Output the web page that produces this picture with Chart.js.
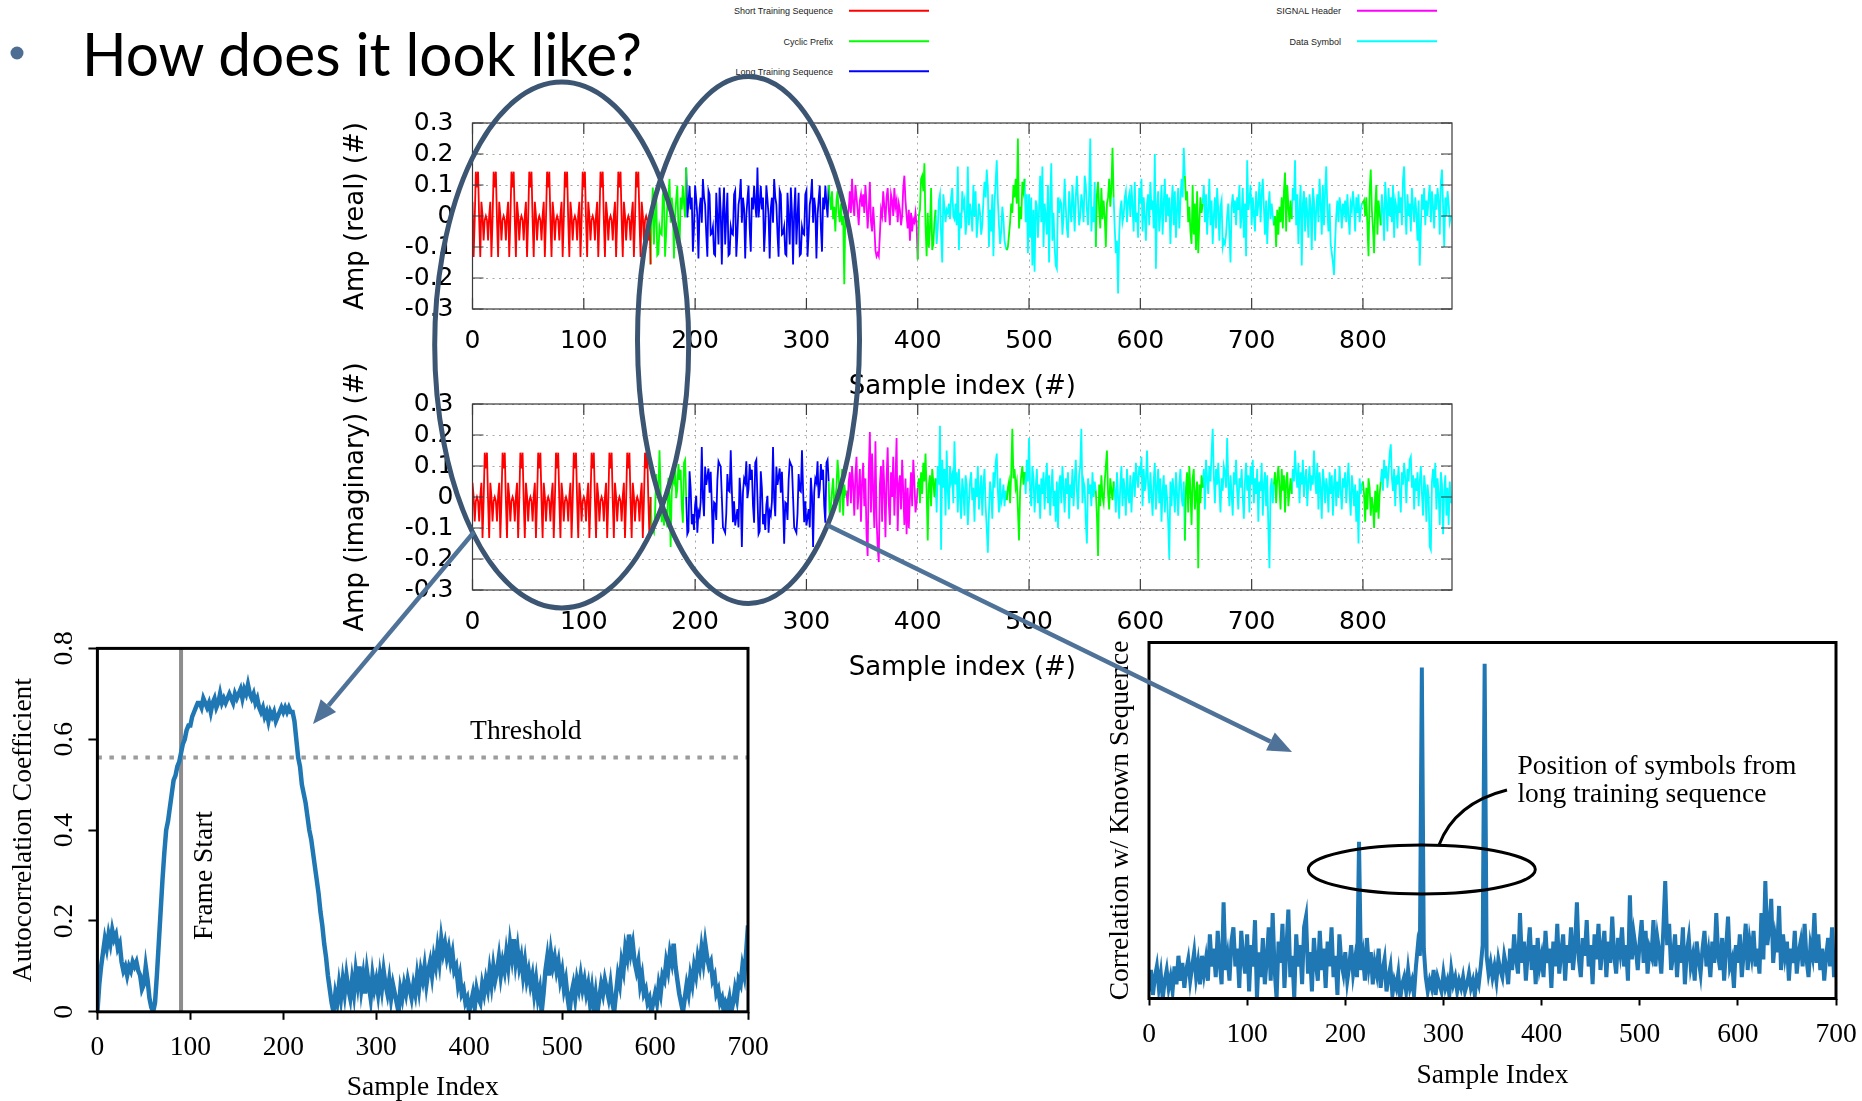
<!DOCTYPE html>
<html>
<head>
<meta charset="utf-8">
<title>How does it look like?</title>
<script src="https://cdn.jsdelivr.net/npm/chart.js@4.4.1/dist/chart.umd.min.js"></script>
<style>
  html, body { margin: 0; padding: 0; background: #fff; }
  body { width: 1862px; height: 1101px; position: relative; overflow: hidden; }
  canvas.chart { position: absolute; }
  svg.layer { position: absolute; left: 0; top: 0; pointer-events: none; }
</style>
</head>
<body>
<svg class="layer" id="heading" width="1862" height="100">
  <circle cx="17" cy="53" r="6.5" fill="#4d6d93"></circle>
  <text x="82" y="76" font-family="Lato, 'Open Sans', sans-serif" font-size="60" fill="#000"
        textLength="560" lengthAdjust="spacingAndGlyphs">How does it look like?</text>
</svg>
<svg class="layer" id="legend" width="1862" height="100"></svg>

<canvas class="chart" id="realChart" width="1140" height="310" style="left:330px;top:95px"></canvas>
<canvas class="chart" id="imagChart" width="1140" height="346" style="left:330px;top:340px"></canvas>
<canvas class="chart" id="autoChart" width="780" height="520" style="left:0px;top:600px"></canvas>
<canvas class="chart" id="corrChart" width="772" height="520" style="left:1090px;top:600px"></canvas>

<svg class="layer" id="marks" width="1862" height="1101">
  <!-- sample ranges circled on the two waveform plots -->
  <ellipse cx="561.7" cy="345" rx="127" ry="263" fill="none" stroke="#3b5572" stroke-width="5"></ellipse>
  <ellipse cx="748.5" cy="340" rx="111" ry="263.5" fill="none" stroke="#3b5572" stroke-width="5"></ellipse>
  <!-- pointers to the two detection plots -->
  <line x1="474" y1="532" x2="328.4" y2="705.6" stroke="#4f7298" stroke-width="4.5"></line>
  <polygon points="313,724 336.1,712.0 320.7,699.2" fill="#4f7298"></polygon>
  <line x1="827" y1="525" x2="1270.4" y2="741.5" stroke="#4f7298" stroke-width="4.5"></line>
  <polygon points="1292,752 1266.0,750.5 1274.8,732.5" fill="#4f7298"></polygon>
  <!-- long training symbol peaks callout -->
  <ellipse cx="1421.8" cy="869.5" rx="113.5" ry="24.5" fill="none" stroke="#000" stroke-width="3"></ellipse>
  <path d="M1439 845 Q1455 803 1507 790" fill="none" stroke="#000" stroke-width="3"></path>
</svg>

<script>
// ---------- 802.11a preamble / frame samples (real part) ----------
const stsRe = [
  .046,-.132,-.013,.143,.092,.143,-.013,-.132,.046,.002,-.079,-.013,0,-.013,-.079,.002,
  .046,-.132,-.013,.143,.092,.143,-.013,-.132,.046,.002,-.079,-.013,0,-.013,-.079,.002,
  .046,-.132,-.013,.143,.092,.143,-.013,-.132,.046,.002,-.079,-.013,0,-.013,-.079,.002,
  .046,-.132,-.013,.143,.092,.143,-.013,-.132,.046,.002,-.079,-.013,0,-.013,-.079,.002,
  .046,-.132,-.013,.143,.092,.143,-.013,-.132,.046,.002,-.079,-.013,0,-.013,-.079,.002,
  .046,-.132,-.013,.143,.092,.143,-.013,-.132,.046,.002,-.079,-.013,0,-.013,-.079,.002,
  .046,-.132,-.013,.143,.092,.143,-.013,-.132,.046,.002,-.079,-.013,0,-.013,-.079,.002,
  .046,-.132,-.013,.143,.092,.143,-.013,-.132,.046,.002,-.079,-.013,0,-.013,-.079,.002,
  .046,-.132,-.013,.143,.092,.143,-.013,-.132,.046,.002,-.079,-.013,0,-.013,-.079,.002,
  .046,-.132,-.013,.143,.092,.143,-.013,-.132,.046,.002,-.079,-.013,0,-.013,-.079,.002
];
const gi2Re = [
  -.156,.012,.092,-.092,-.003,.075,-.127,-.122,-.035,-.056,-.060,.070,.082,-.131,-.057,.037,
  .062,.119,-.022,.059,.024,-.137,.001,.053,.098,-.038,-.115,.060,.021,.097,.040,-.005
];
const lts1Re = [
  .156,-.005,.040,.097,.021,.060,-.115,-.038,.098,.053,.001,-.137,.024,.059,-.022,.119,
  .062,.037,-.057,-.131,.082,.070,-.060,-.056,-.035,-.122,-.127,.075,-.003,-.092,.092,.012,
  -.156,.012,.092,-.092,-.003,.075,-.127,-.122,-.035,-.056,-.060,.070,.082,-.131,-.057,.037,
  .062,.119,-.022,.059,.024,-.137,.001,.053,.098,-.038,-.115,.060,.021,.097,.040,-.005
];
const lts2Re = [
  .156,-.005,.040,.097,.021,.060,-.115,-.038,.098,.053,.001,-.137,.024,.059,-.022,.119,
  .062,.037,-.057,-.131,.082,.070,-.060,-.056,-.035,-.122,-.127,.075,-.003,-.092,.092,.012,
  -.156,.012,.092,-.092,-.003,.075,-.127,-.122,-.035,-.056,-.060,.070,.082,-.131,-.057,.037,
  .062,.119,-.022,.059,.024,-.137,.001,.053,.098,-.038,-.115,.060,.021,.097,.040,-.005
];
const sigCpRe = [.10,.06,.02,.08,-.01,.03,-.05,.05,.08,.01,-.02,.04,-.03,.00,-.22,.02];
const sigRe = [
  .01,.00,.02,.08,.01,.12,.04,.00,.10,.06,.02,-.03,.05,.07,.03,.07,
  .01,.10,.04,-.04,.02,.11,-.02,-.05,.03,-.03,-.11,-.13,-.12,-.13,-.06,.02,
  .00,.08,.03,-.02,.06,.09,.02,-.03,.07,.05,.00,.09,.03,.05,-.02,.04,
  .02,-.03,.00,.09,.13,.05,.00,-.04,.02,-.08,.01,-.05,-.01,-.02,.01,-.03
];
const cp1Re = [-.14,.00,.02,.12,.13,.08,.17,-.03,-.13,.01,-.10,-.04,.09,-.11,-.09,-.02];
const sym1Re = [
  .02,-.09,-.04,.05,.07,-.06,-.15,.07,.03,-.02,.02,.01,.04,-.01,.06,.09,
  .00,-.01,.04,-.03,.16,-.11,.01,-.04,.08,.03,.05,-.06,-.02,.16,-.03,.04,
  .01,-.05,.10,.00,.08,-.07,-.02,.04,.01,-.06,-.03,.05,.11,.06,.15,.09,
  -.10,.02,-.05,.07,-.13,.04,.11,.18,.05,-.03,-.09,-.05,.03,-.01,-.08,-.10
];
const cp2Re = [-.11,-.10,-.06,-.02,.04,.01,.10,.06,.12,.04,.25,-.04,.03,-.01,.11,.08];
const sym2Re = [
  .12,-.02,.07,-.12,.07,-.07,.06,-.16,.02,-.18,.05,.03,-.07,.02,.13,-.02,
  .16,-.10,.04,.00,-.06,.10,-.15,.04,.17,-.08,.01,-.10,-.16,-.17,.06,.01,
  .05,.04,-.06,.00,.12,.03,-.04,-.07,.08,.02,-.02,.10,.04,-.05,.06,.13,
  .05,-.03,.00,.07,.04,-.02,.13,.10,.02,-.03,.07,.25,-.05,.03,-.02,.11
];
const cp3Re = [-.10,.07,.11,.02,-.04,.09,-.01,.05,.00,-.10,.04,.06,.12,.03,.09,.22];
const sym3Re = [
  .06,-.04,-.12,-.08,-.25,-.06,.02,.05,-.02,.00,.06,.08,-.02,.05,.07,.00,
  .10,.03,-.05,.11,-.02,.01,-.07,.09,.04,.12,-.05,.06,.00,-.08,.04,.07,
  -.03,.11,.02,.05,-.04,.20,-.17,.03,.08,-.05,.01,.10,-.06,.04,.12,-.02,
  .07,.00,.06,-.09,.03,.10,-.03,.08,-.07,.02,.09,-.04,.05,.12,.06,.22
];
const cp4Re = [.13,.05,.08,-.02,.03,-.05,-.09,.10,-.06,.04,-.11,.08,-.12,-.02,.06,.01];
const sym4Re = [
  .04,.10,-.02,.07,-.06,.02,.12,-.03,.05,-.09,.00,.06,-.04,.09,.02,-.08,
  .03,.05,-.10,-.08,-.09,-.06,.00,.04,-.05,-.15,.03,.07,.01,.05,-.03,.06,
  .02,.10,-.04,.00,.09,-.07,.04,-.13,.18,.02,.05,.10,-.03,.06,.01,-.05,
  .08,.00,.04,.11,-.02,.07,.12,.03,-.06,.05,-.09,.02,.08,-.01,.04,.00
];
const cp5Re = [-.03,.00,-.10,.02,-.06,.03,-.02,.06,-.04,.08,.14,-.05,.10,.03,-.02,.05];
const sym5Re = [
  -.01,.09,.05,.18,-.03,.07,-.09,.02,.10,-.16,.04,.08,-.05,.06,.01,-.07,
  .07,.03,-.11,.09,.05,-.08,.02,.07,-.02,.12,.04,-.06,.10,-.03,.08,.16,
  .02,-.05,.04,-.09,-.12,-.15,-.19,-.08,.00,.05,-.02,.06,.03,-.04,.04,.01,
  .05,-.02,.07,.00,-.06,.04,.02,.08,.03,-.05,.06,.01,.07,-.02,.02,.04
];
const cp6Re = [.04,.05,.00,.06,-.03,-.13,.08,.15,.02,-.04,-.12,.03,.10,-.06,.05,.01];
const sym6Re = [
  -.03,.07,.02,-.08,.11,.04,-.05,.09,.00,.06,-.02,.10,-.07,.05,.03,-.04,
  .08,.01,.06,-.03,.12,.16,.02,-.06,.07,.00,.04,-.05,.09,.03,-.02,.06,
  .01,-.08,.05,-.16,-.04,.07,.02,.09,-.03,.05,.00,.06,.10,-.02,.08,.03,
  -.04,.07,.02,.09,.05,-.06,.11,.15,.03,-.10,.06,.00,.08,.04,-.02,.00
];

// ---------- imaginary part ----------
const stsIm = [
  .046,.002,-.079,-.013,0,-.013,-.079,.002,.046,-.132,-.013,.143,.092,.143,-.013,-.132,
  .046,.002,-.079,-.013,0,-.013,-.079,.002,.046,-.132,-.013,.143,.092,.143,-.013,-.132,
  .046,.002,-.079,-.013,0,-.013,-.079,.002,.046,-.132,-.013,.143,.092,.143,-.013,-.132,
  .046,.002,-.079,-.013,0,-.013,-.079,.002,.046,-.132,-.013,.143,.092,.143,-.013,-.132,
  .046,.002,-.079,-.013,0,-.013,-.079,.002,.046,-.132,-.013,.143,.092,.143,-.013,-.132,
  .046,.002,-.079,-.013,0,-.013,-.079,.002,.046,-.132,-.013,.143,.092,.143,-.013,-.132,
  .046,.002,-.079,-.013,0,-.013,-.079,.002,.046,-.132,-.013,.143,.092,.143,-.013,-.132,
  .046,.002,-.079,-.013,0,-.013,-.079,.002,.046,-.132,-.013,.143,.092,.143,-.013,-.132,
  .046,.002,-.079,-.013,0,-.013,-.079,.002,.046,-.132,-.013,.143,.092,.143,-.013,-.132,
  .046,.002,-.079,-.013,0,-.013,-.079,.002,.046,-.132,-.013,.143,.092,.143,-.013,-.132
];
const gi2Im = [
  0,-.098,-.106,-.115,-.054,.074,.021,.017,.151,.022,-.081,-.014,-.092,-.065,-.039,-.098,
  .062,.004,-.161,.015,.059,.047,.115,-.004,.026,.106,.055,.088,-.028,-.083,.111,.120
];
const lts1Im = [
  0,-.120,-.111,.083,.028,-.088,-.055,-.106,-.026,.004,-.115,-.047,-.059,-.015,.161,-.004,
  -.062,.098,.039,.065,.092,.014,.081,-.022,-.151,-.017,-.021,-.074,.054,.115,.106,.098,
  0,-.098,-.106,-.115,-.054,.074,.021,.017,.151,.022,-.081,-.014,-.092,-.065,-.039,-.098,
  .062,.004,-.161,.015,.059,.047,.115,-.004,.026,.106,.055,.088,-.028,-.083,.111,.120
];
const lts2Im = [
  0,-.120,-.111,.083,.028,-.088,-.055,-.106,-.026,.004,-.115,-.047,-.059,-.015,.161,-.004,
  -.062,.098,.039,.065,.092,.014,.081,-.022,-.151,-.017,-.021,-.074,.054,.115,.106,.098,
  0,-.098,-.106,-.115,-.054,.074,.021,.017,.151,.022,-.081,-.014,-.092,-.065,-.039,-.098,
  .062,.004,-.161,.015,.059,.047,.115,-.004,.026,.106,.055,.088,-.028,-.083,.111,.120
];
const sigCpIm = [.05,-.08,-.03,.02,.06,-.04,.00,.03,.12,.07,-.05,.02,.09,-.06,.04,.01];
const sigIm = [
  .02,-.03,.05,.08,-.02,.10,.04,-.06,.07,.13,-.04,.02,.09,-.08,.05,.11,
  -.03,.06,-.12,-.19,.08,.21,-.05,.14,.02,-.10,.18,-.07,-.16,-.21,.04,.10,
  -.08,.12,.03,-.13,.06,.16,-.02,-.09,.08,.00,.13,-.06,.05,.19,-.11,.04,
  .07,-.04,.12,.02,-.09,.06,-.12,.03,-.10,.00,.08,-.03,.12,.05,-.05,-.02
];
const cp1Im = [.03,.06,-.02,.08,.01,.11,.05,.14,.02,-.14,.04,.07,-.03,.09,.05,.00];
const sym1Im = [
  .06,-.05,.10,.04,.23,-.17,.12,.03,.09,-.06,.15,.02,-.04,.10,.05,.07,
  -.02,.18,.04,.08,-.05,.09,.00,-.07,.06,.02,-.06,.07,.04,-.09,-.02,.05,
  .08,-.01,.03,-.08,.06,.00,.10,-.04,.02,.07,-.06,.04,.09,-.03,-.10,-.18,
  -.05,.05,.01,-.07,.08,.03,.11,.14,.02,-.05,.06,-.02,.00,.04,-.03,.02
];
const cp2Im = [-.01,.03,.05,-.02,.08,.22,.06,.09,.03,.05,-.04,-.14,.02,.07,.10,.04];
const sym2Im = [
  .08,.01,.12,.05,.19,.02,-.03,.10,.06,-.05,.03,.09,-.02,.04,-.07,.06,
  .01,.08,-.04,.05,.11,-.02,.07,-.06,.03,.09,-.03,.02,-.08,.05,-.10,.04,
  .07,-.02,.10,.03,-.05,.06,.01,.08,-.07,.04,.00,.09,-.03,.05,.12,.02,
  -.04,.07,.10,.22,-.02,.05,.03,-.08,-.15,.06,.01,.04,-.03,.08,.00,.05
];
const cp3Im = [.02,-.06,-.19,.04,-.03,.07,.00,-.02,.05,.10,.15,.01,-.04,.06,.02,-.01];
const sym3Im = [
  .05,.02,-.05,.08,.00,-.07,.04,.10,-.03,.06,.02,-.06,.09,.01,-.02,.07,
  -.05,.04,.08,.00,.11,.06,.03,.10,.07,.13,-.03,.09,.02,.05,.15,.04,
  -.02,.08,.01,-.06,.05,.11,-.04,.03,.09,-.02,.06,-.08,.02,.07,-.05,.04,
  .00,-.08,-.20,.05,-.03,.06,.02,-.05,.08,.01,-.06,.04,.09,.00,-.03,.05
];
const cp4Im = [-.14,.03,.08,-.05,.10,.02,-.09,.06,.09,-.04,.01,.05,-.23,.04,-.02,.07];
const sym4Im = [
  .03,.09,-.04,.12,.06,.01,.10,.05,.14,.22,.07,-.02,.09,.04,.11,.03,
  -.05,.06,.02,.10,.08,.03,.19,.05,-.03,.07,.01,-.06,.08,.04,.12,.02,
  -.04,.06,.03,.09,.00,-.07,.05,.11,.02,.07,-.05,.10,.04,.12,-.02,.06,
  .01,.09,-.08,.05,.02,.11,-.06,.04,.08,-.03,.07,-.10,-.23,.03,.06,-.02
];
const cp5Im = [.04,.08,-.02,.06,.10,.03,-.04,.09,.02,.07,-.05,.05,.08,-.03,.02,.06];
const sym5Im = [
  .01,.09,.05,.15,.07,.03,.11,-.02,.08,.04,.12,.00,.06,.09,-.03,.05,
  .10,.02,.07,.04,.15,.06,.01,.11,-.04,.08,.03,-.07,.09,.05,-.02,.06,
  .03,-.05,.08,.01,.07,-.06,.04,.09,-.03,.05,.00,.10,.02,-.04,.06,.03,
  .08,-.02,.05,.11,.01,-.06,.07,.03,-.03,.04,-.08,.02,-.15,.06,.01,.04
];
const cp6Im = [.05,.01,-.08,.03,-.04,.06,.03,-.06,.00,-.03,-.10,.02,-.05,.04,-.07,.01];
const sym6Im = [
  .05,.09,.02,.12,.06,.10,.03,.08,.14,.17,.06,.02,.09,-.03,.07,.04,
  .10,.02,-.05,.08,.04,.11,.06,-.02,.09,.05,.12,.13,.03,.07,-.04,.06,
  .02,.08,-.03,.05,.10,.01,-.06,.07,.03,-.08,.04,.00,-.16,-.17,.05,.09,
  .03,.11,-.04,.06,.01,-.09,.08,.04,-.12,.02,.07,-.06,.03,-.09,.05,-.02
];

// ---------- autocorrelation coefficient, every 2nd sample from 0 to 700 ----------
const AUTOCORR_STEP = 2;
const autocorr = [
  .00,.06,.10,.13,.16,.14,.17,.15,.18,.16,
  .17,.14,.15,.11,.09,.10,.08,.10,.09,.11,
  .10,.11,.09,.08,.05,.06,.10,.07,.03,.01,
  .00,.02,.08,.15,.22,.29,.35,.40,.42,.45,
  .48,.51,.52,.54,.55,.57,.59,.60,.62,.63,
  .63,.65,.66,.67,.68,.68,.67,.69,.68,.67,
  .68,.66,.68,.69,.67,.68,.70,.68,.69,.68,
  .69,.70,.69,.68,.70,.69,.70,.71,.69,.71,
  .70,.72,.70,.69,.70,.68,.69,.67,.66,.67,
  .65,.66,.64,.66,.65,.66,.64,.65,.66,.67,
  .66,.67,.66,.67,.66,.66,.64,.60,.56,.54,
  .50,.48,.46,.43,.40,.38,.35,.32,.29,.26,
  .22,.19,.15,.12,.08,.05,.02,.00,.04,.02,
  .06,.03,.07,.04,.08,.05,.03,.07,.04,.09,
  .06,.10,.05,.08,.04,.09,.06,.03,.08,.05,
  .07,.04,.08,.05,.09,.06,.04,.07,.03,.06,
  .04,.02,.00,.05,.03,.06,.04,.07,.05,.03,
  .06,.04,.08,.05,.09,.07,.10,.06,.09,.11,
  .08,.12,.10,.14,.11,.16,.13,.15,.12,.14,
  .11,.13,.09,.10,.06,.08,.04,.05,.02,.03,
  .00,.02,.04,.01,.05,.03,.02,.06,.04,.07,
  .05,.09,.06,.10,.07,.09,.12,.08,.11,.09,
  .13,.10,.15,.12,.16,.11,.14,.10,.12,.08,
  .11,.07,.09,.06,.08,.04,.07,.03,.05,.00,
  .04,.09,.12,.08,.13,.10,.12,.09,.11,.07,
  .09,.05,.07,.03,.00,.04,.06,.03,.07,.05,
  .08,.05,.07,.04,.06,.02,.05,.01,.04,.00,
  .03,.06,.04,.07,.05,.03,.06,.02,.00,.04,
  .08,.06,.11,.09,.14,.12,.17,.13,.15,.11,
  .09,.11,.06,.08,.04,.05,.02,.03,.00,.02,
  .04,.02,.06,.04,.08,.07,.11,.09,.13,.11,
  .15,.10,.07,.04,.02,.00,.03,.06,.04,.08,
  .06,.10,.08,.12,.10,.14,.11,.15,.12,.10,
  .11,.07,.08,.04,.05,.02,.03,.00,.02,.01,
  .03,.00,.02,.05,.03,.07,.06,.10,.08,.13,
  .19
];
const THRESHOLD = 0.56;
const FRAME_START = 90;

// ---------- correlation with the known long training symbol, every 2nd sample ----------
const CORR_STEP = 2;
const knownCorr = [
  .02,.08,.01,.06,.09,.03,.07,.00,.05,.08,
  .03,.06,.02,.09,.04,.12,.05,.10,.03,.08,
  .11,.05,.09,.13,.06,.10,.04,.12,.07,.11,
  .05,.18,.09,.14,.06,.19,.10,.04,.27,.08,
  .12,.05,.16,.20,.09,.14,.03,.19,.11,.07,
  .18,.02,.15,.09,.22,.00,.13,.06,.17,.04,
  .11,.20,.05,.24,.08,.00,.16,.10,.21,.03,
  .14,.25,.06,.12,.00,.18,.09,.15,.04,.20,
  .23,.07,.13,.02,.17,.10,.05,.19,.08,.14,
  .03,.16,.09,.20,.06,.12,.01,.18,.10,.07,
  .13,.05,.09,.15,.07,.11,.06,.44,.08,.12,
  .05,.17,.09,.13,.04,.10,.07,.14,.03,.08,
  .11,.02,.06,.09,.01,.05,.03,.07,.00,.04,
  .06,.02,.08,.03,.05,.01,.09,.15,.12,.93,
  .14,.06,.02,.05,.03,.08,.01,.06,.04,.02,
  .07,.03,.05,.01,.08,.04,.06,.02,.05,.03,
  .06,.02,.04,.07,.03,.05,.01,.06,.04,.09,
  .15,.94,.12,.07,.10,.06,.09,.05,.11,.08,
  .06,.12,.09,.04,.14,.08,.18,.11,.07,.24,
  .10,.16,.05,.13,.20,.08,.15,.04,.17,.09,
  .12,.06,.19,.10,.14,.03,.16,.09,.21,.07,
  .13,.18,.05,.15,.10,.20,.08,.14,.27,.11,
  .06,.17,.12,.22,.09,.15,.04,.18,.11,.21,
  .08,.14,.19,.06,.16,.10,.23,.12,.07,.17,
  .13,.20,.09,.15,.05,.29,.11,.18,.14,.08,
  .16,.22,.10,.19,.07,.14,.12,.22,.09,.17,
  .13,.07,.19,.33,.15,.21,.08,.12,.18,.06,
  .15,.10,.20,.04,.13,.17,.09,.12,.05,.16,
  .11,.07,.14,.19,.09,.13,.06,.16,.10,.24,
  .12,.08,.17,.05,.14,.23,.09,.11,.03,.15,
  .10,.18,.06,.13,.21,.08,.16,.12,.19,.09,
  .14,.07,.24,.11,.33,.15,.20,.28,.10,.17,
  .13,.26,.08,.18,.12,.16,.05,.14,.10,.19,
  .07,.13,.16,.09,.21,.11,.06,.15,.12,.24,
  .10,.18,.08,.14,.05,.12,.17,.09,.20,.06,
  .11
];

// ---------- frame structure ----------
const KINDS = [
  { key: 'sts',  label: 'Short Training Sequence', color: '#ff0000' },
  { key: 'cp',   label: 'Cyclic Prefix',           color: '#00ff00' },
  { key: 'lts',  label: 'Long Training Sequence',  color: '#0000ff' },
  { key: 'sig',  label: 'SIGNAL Header',           color: '#ff00ff' },
  { key: 'data', label: 'Data Symbol',             color: '#00ffff' }
];
const realSegments = [
  ['sts', stsRe], ['cp', gi2Re], ['lts', lts1Re], ['lts', lts2Re], ['cp', sigCpRe], ['sig', sigRe],
  ['cp', cp1Re], ['data', sym1Re], ['cp', cp2Re], ['data', sym2Re], ['cp', cp3Re], ['data', sym3Re],
  ['cp', cp4Re], ['data', sym4Re], ['cp', cp5Re], ['data', sym5Re], ['cp', cp6Re], ['data', sym6Re]
];
const imagSegments = [
  ['sts', stsIm], ['cp', gi2Im], ['lts', lts1Im], ['lts', lts2Im], ['cp', sigCpIm], ['sig', sigIm],
  ['cp', cp1Im], ['data', sym1Im], ['cp', cp2Im], ['data', sym2Im], ['cp', cp3Im], ['data', sym3Im],
  ['cp', cp4Im], ['data', sym4Im], ['cp', cp5Im], ['data', sym5Im], ['cp', cp6Im], ['data', sym6Im]
];
const SAMPLE_TICKS = { min: 0, max: 880, step: 100 };
const AMP_TICKS = { min: -0.3, max: 0.3, step: 0.1 };

// one line dataset per field type; each run also reaches the first sample of the next run
function splitByKind(segments) {
  const vals = [], kinds = [];
  segments.forEach(([k, arr]) => arr.forEach(v => { vals.push(v); kinds.push(k); }));
  return KINDS.map(kind => ({
    label: kind.label,
    borderColor: kind.color,
    backgroundColor: kind.color,
    borderWidth: 1.8,
    pointRadius: 0,
    tension: 0,
    spanGaps: false,
    data: vals.map((v, i) => ({
      x: i,
      y: (kinds[i] === kind.key || (i > 0 && kinds[i - 1] === kind.key)) ? v : null
    }))
  }));
}

const fmt1 = v => (Math.abs(v) < 1e-9 ? '0' : (Math.round(v * 10) / 10).toFixed(1));

// gnuplot-like frame: border plus inward tick marks on all four sides
const gnuFrame = {
  id: 'gnuFrame',
  afterDraw(chart) {
    const { ctx, chartArea: a, scales: { x, y } } = chart;
    const L = 11;
    ctx.save();
    ctx.strokeStyle = '#3a3a3a';
    ctx.lineWidth = 1.2;
    ctx.strokeRect(a.left, a.top, a.right - a.left, a.bottom - a.top);
    ctx.beginPath();
    x.ticks.forEach(t => {
      const px = x.getPixelForValue(t.value);
      ctx.moveTo(px, a.bottom); ctx.lineTo(px, a.bottom - L);
      ctx.moveTo(px, a.top); ctx.lineTo(px, a.top + L);
    });
    y.ticks.forEach(t => {
      const py = y.getPixelForValue(t.value);
      ctx.moveTo(a.left, py); ctx.lineTo(a.left + L, py);
      ctx.moveTo(a.right, py); ctx.lineTo(a.right - L, py);
    });
    ctx.stroke();
    ctx.restore();
  }
};

const SANS = 'DejaVu Sans';
function waveformConfig(segments, yTitle, topPad) {
  return {
    type: 'line',
    data: { datasets: splitByKind(segments) },
    plugins: [gnuFrame],
    options: {
      responsive: false, animation: false, devicePixelRatio: 1,
      layout: { padding: { top: topPad, right: 18, left: 0, bottom: 0 } },
      plugins: { legend: { display: false }, tooltip: { enabled: false } },
      scales: {
        x: {
          type: 'linear', min: SAMPLE_TICKS.min, max: SAMPLE_TICKS.max,
          ticks: { stepSize: SAMPLE_TICKS.step, includeBounds: false, autoSkip: false, maxRotation: 0,
                   padding: 17, color: '#000', font: { family: SANS, size: 25 } },
          grid: { color: '#a8a8a8', lineWidth: 1, drawTicks: false },
          border: { display: false, dash: [2, 4.5] },
          title: { display: true, text: 'Sample index (#)', color: '#000',
                   font: { family: SANS, size: 26 }, padding: { top: 0, bottom: 2.4 } },
          afterFit(s) { s.height = 96; s.paddingLeft = 0; s.paddingRight = 0; }
        },
        y: {
          type: 'linear', min: AMP_TICKS.min, max: AMP_TICKS.max,
          ticks: { stepSize: AMP_TICKS.step, includeBounds: false, autoSkip: false, padding: 19, color: '#000',
                   font: { family: SANS, size: 25 }, callback: v => fmt1(v) },
          grid: { color: '#a8a8a8', lineWidth: 1, drawTicks: false },
          border: { display: false, dash: [2, 4.5] },
          title: { display: true, text: yTitle, color: '#000',
                   font: { family: SANS, size: 26 }, padding: { top: 10.4, bottom: 0 } },
          afterFit(s) { s.width = 142.5; s.paddingTop = 0; s.paddingBottom = 0; }
        }
      }
    }
  };
}

const realChart = new Chart(document.getElementById('realChart'), waveformConfig(realSegments, 'Amp (real) (#)', 28));
new Chart(document.getElementById('imagChart'), waveformConfig(imagSegments, 'Amp (imaginary) (#)', 64));

// legend for the field colours, taken from the waveform datasets
(function buildLegend() {
  const slots = [[833, 14], [833, 44.5], [833, 74.5], [1341, 14], [1341, 44.5]];
  const svg = document.getElementById('legend');
  const ns = 'http://www.w3.org/2000/svg';
  realChart.data.datasets.forEach((ds, i) => {
    const [x, y] = slots[i];
    const t = document.createElementNS(ns, 'text');
    t.setAttribute('x', x); t.setAttribute('y', y);
    t.setAttribute('text-anchor', 'end');
    t.setAttribute('font-family', 'Liberation Sans, Arial, sans-serif');
    t.setAttribute('font-size', '9');
    t.setAttribute('fill', '#222');
    t.textContent = ds.label;
    svg.appendChild(t);
    const l = document.createElementNS(ns, 'line');
    l.setAttribute('x1', x + 16); l.setAttribute('x2', x + 96);
    l.setAttribute('y1', y - 3.2); l.setAttribute('y2', y - 3.2);
    l.setAttribute('stroke', ds.borderColor); l.setAttribute('stroke-width', '2');
    svg.appendChild(l);
  });
})();

// ---------- detection plots ----------
const SERIF = 'Liberation Serif';
const SERIF_SIZE = 27.5;
const serifFont = { family: SERIF, size: SERIF_SIZE };
const fmtAuto = v => (Math.abs(v) < 1e-9 ? '0' : (Math.round(v * 10) / 10).toString());

const autocorrDecor = {
  id: 'autocorrDecor',
  afterDraw(chart) {
    const { ctx, chartArea: a, scales: { x, y } } = chart;
    ctx.save();
    ctx.strokeStyle = '#000';
    ctx.lineWidth = 3;
    ctx.strokeRect(a.left, a.top, a.right - a.left, a.bottom - a.top);
    ctx.fillStyle = '#000';
    ctx.font = SERIF_SIZE + 'px "' + SERIF + '"';
    ctx.textAlign = 'center';
    ctx.textBaseline = 'middle';
    y.ticks.forEach(t => {
      ctx.save();
      ctx.translate(y.right - 33, y.getPixelForValue(t.value));
      ctx.rotate(-Math.PI / 2);
      ctx.fillText(fmtAuto(t.value), 0, 0);
      ctx.restore();
    });
    ctx.textBaseline = 'alphabetic';
    ctx.fillText('Threshold', x.getPixelForValue(461), y.getPixelForValue(0.6));
    ctx.translate(x.getPixelForValue(123), y.getPixelForValue(0.3));
    ctx.rotate(-Math.PI / 2);
    ctx.fillText('Frame Start', 0, 0);
    ctx.restore();
  }
};

new Chart(document.getElementById('autoChart'), {
  type: 'line',
  data: {
    datasets: [
      { label: 'Autocorrelation', data: autocorr.map((v, i) => ({ x: i * AUTOCORR_STEP, y: v })),
        borderColor: '#1f77b4', borderWidth: 4.5, pointRadius: 0, tension: 0 },
      { label: 'Threshold', data: [{ x: 0, y: THRESHOLD }, { x: 700, y: THRESHOLD }],
        borderColor: '#9c9c9c', borderWidth: 4, borderDash: [4.5, 7.5], pointRadius: 0 },
      { label: 'Frame Start', data: [{ x: FRAME_START, y: 0 }, { x: FRAME_START, y: 0.8 }],
        borderColor: '#8d8d8d', borderWidth: 4, pointRadius: 0 }
    ]
  },
  plugins: [autocorrDecor],
  options: {
    responsive: false, animation: false, devicePixelRatio: 1,
    layout: { padding: { top: 48.4, right: 32, left: 0, bottom: 0 } },
    plugins: { legend: { display: false }, tooltip: { enabled: false } },
    scales: {
      x: {
        type: 'linear', min: 0, max: 700,
        ticks: { stepSize: 100, autoSkip: false, maxRotation: 0, padding: 11.4, color: '#000', font: serifFont },
        grid: { display: true, drawOnChartArea: false, drawTicks: true, tickLength: 8, tickWidth: 2, tickColor: '#000' },
        border: { display: false },
        title: { display: true, text: 'Sample Index', color: '#000', font: serifFont, padding: { top: 0, bottom: 15.5 } },
        afterFit(s) { s.height = 108.2; s.paddingLeft = 0; s.paddingRight = 0; }
      },
      y: {
        type: 'linear', min: 0, max: 0.8,
        ticks: { stepSize: 0.2, display: false },
        grid: { display: true, drawOnChartArea: false, drawTicks: true, tickLength: 9, tickWidth: 2, tickColor: '#000' },
        border: { display: false },
        title: { display: true, text: 'Autocorrelation Coefficient', color: '#000', font: serifFont, padding: { top: 7.25, bottom: 0 } },
        afterFit(s) { s.width = 97.4; s.paddingTop = 0; s.paddingBottom = 0; }
      }
    }
  }
});

const corrDecor = {
  id: 'corrDecor',
  afterDraw(chart) {
    const { ctx, chartArea: a, scales: { x, y } } = chart;
    ctx.save();
    ctx.strokeStyle = '#000';
    ctx.lineWidth = 3;
    ctx.strokeRect(a.left, a.top, a.right - a.left, a.bottom - a.top);
    ctx.fillStyle = '#000';
    ctx.font = SERIF_SIZE + 'px "' + SERIF + '"';
    ctx.textAlign = 'left';
    ctx.textBaseline = 'middle';
    ctx.fillText('Position of symbols from', x.getPixelForValue(375.4), y.getPixelForValue(0.651));
    ctx.fillText('long training sequence', x.getPixelForValue(375.4), y.getPixelForValue(0.572));
    ctx.restore();
  }
};

new Chart(document.getElementById('corrChart'), {
  type: 'line',
  data: {
    datasets: [
      { label: 'Correlation', data: knownCorr.map((v, i) => ({ x: i * CORR_STEP, y: v })),
        borderColor: '#1f77b4', borderWidth: 4, pointRadius: 0, tension: 0 }
    ]
  },
  plugins: [corrDecor],
  options: {
    responsive: false, animation: false, devicePixelRatio: 1,
    layout: { padding: { top: 42.5, right: 26, left: 0, bottom: 0 } },
    plugins: { legend: { display: false }, tooltip: { enabled: false } },
    scales: {
      x: {
        type: 'linear', min: 0, max: 700,
        ticks: { stepSize: 100, autoSkip: false, maxRotation: 0, padding: 12.3, color: '#000', font: serifFont },
        grid: { display: true, drawOnChartArea: false, drawTicks: true, tickLength: 7, tickWidth: 2, tickColor: '#000' },
        border: { display: false },
        title: { display: true, text: 'Sample Index', color: '#000', font: serifFont, padding: { top: 0, bottom: 28 } },
        afterFit(s) { s.height = 121.5; s.paddingLeft = 0; s.paddingRight = 0; }
      },
      y: {
        type: 'linear', min: 0, max: 1,
        ticks: { display: false },
        grid: { display: false },
        border: { display: false },
        title: { display: true, text: 'Correlation w/ Known Sequence', color: '#000', font: serifFont, padding: { top: 14, bottom: 0 } },
        afterFit(s) { s.width = 59; s.paddingTop = 0; s.paddingBottom = 0; }
      }
    }
  }
});
</script>
</body>
</html>
